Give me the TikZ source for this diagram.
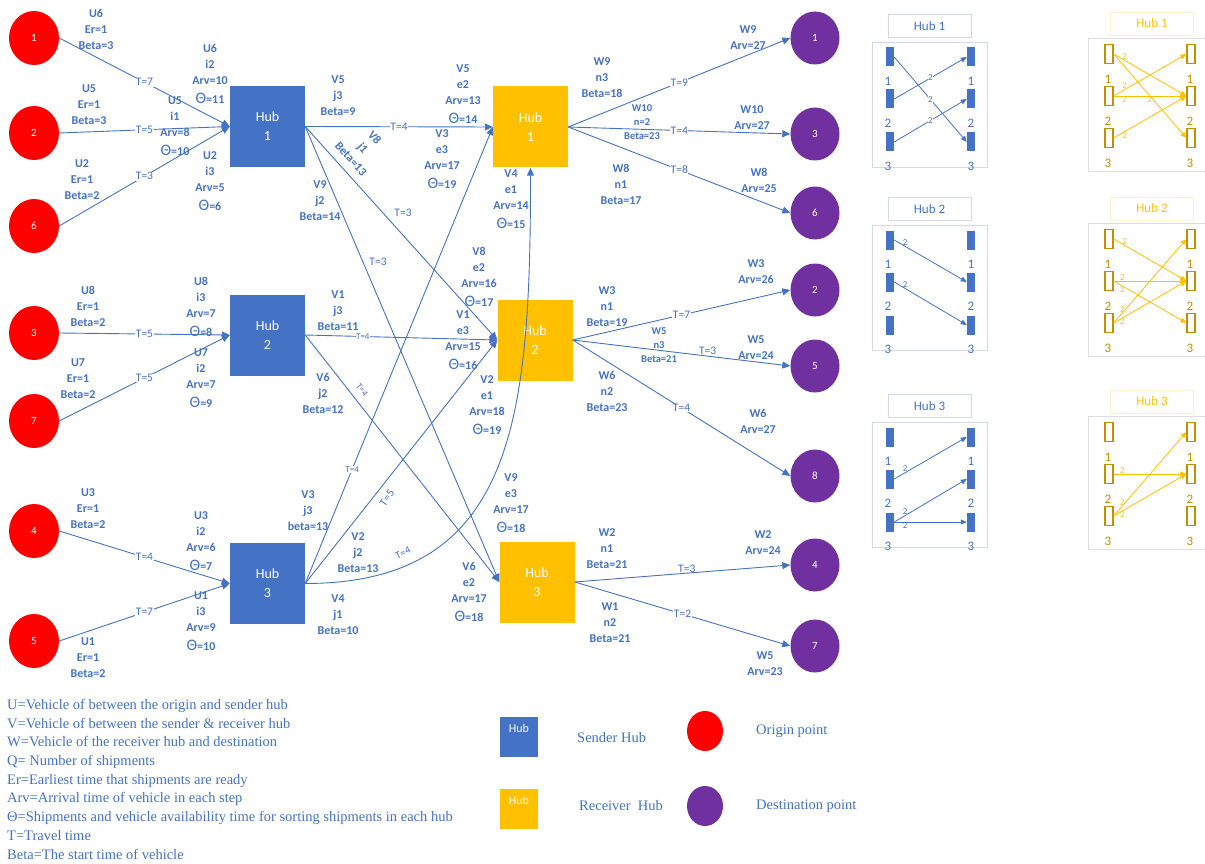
\documentclass[tikz,border=0pt]{standalone}
\usepackage{fontspec}
\setmainfont{Carlito}
\newfontfamily\legendfont{Liberation Serif}
\usepackage{tikz}
\usetikzlibrary{arrows.meta,shapes.geometric}

\definecolor{hubblue}{HTML}{4472C4}
\definecolor{hubgold}{HTML}{FFC000}
\definecolor{dstpurple}{HTML}{7030A0}
\definecolor{darkgold}{HTML}{BF9000}
\definecolor{bframe}{HTML}{D3DBEA}
\definecolor{yframe}{HTML}{DEDEDE}
\definecolor{ytitle}{HTML}{FFF0D0}

\newcommand{\sortth}{{\fontsize{16}{16}\selectfont\mdseries Θ}}

\begin{document}
\begin{tikzpicture}[x=1pt,y=-1pt,->,>={Triangle[length=8pt,width=7pt]},
    every node/.style={text=hubblue},
    every edge/.style={draw=hubblue,line width=0.9pt},
    origin/.style={ellipse,fill=red,minimum width=50pt,minimum height=54pt,
                   inner sep=0pt,text=white,font=\fontsize{11}{12}\selectfont},
    dest/.style={origin,fill=dstpurple,minimum width=49pt,minimum height=53pt},
    shub/.style={rectangle,fill=hubblue,minimum width=75pt,minimum height=81pt,
                 text=white,align=center,font=\fontsize{14}{19}\selectfont},
    rhub/.style={shub,fill=hubgold},
    info/.style={align=center,inner sep=0pt,font=\bfseries\fontsize{12}{16}\selectfont},
    sinfo/.style={info,font=\bfseries\fontsize{10.5}{14}\selectfont},
    tlab/.style={fill=white,inner sep=0.6pt,font=\fontsize{11.5}{12}\selectfont},
    stlab/.style={tlab,font=\fontsize{9}{10}\selectfont},
    pframe/.style={draw=bframe,line width=0.6pt,minimum width=115pt,minimum height=125pt},
    ptitle/.style={draw=bframe,line width=0.6pt,minimum width=83pt,minimum height=23pt,
                   font=\fontsize{13}{14}\selectfont},
    pnum/.style={inner sep=0pt,font=\fontsize{13}{14}\selectfont},
    bbar/.style={fill=hubblue,minimum width=8pt,minimum height=19pt,inner sep=0pt},
    ybar/.style={draw=darkgold,line width=1.3pt,minimum width=8pt,minimum height=19pt,inner sep=0pt},
    sarr/.style={>={Triangle[length=6pt,width=5pt]},every edge/.style={draw=hubblue,line width=0.8pt}},
    ysarr/.style={sarr,every edge/.style={draw=hubgold,line width=0.8pt}},
    snum/.style={inner sep=0.5pt,font=\fontsize{9}{10}\selectfont},
    ysnum/.style={snum,text=hubgold},
    legtxt/.style={inner sep=0pt,anchor=west,font=\legendfont\fontsize{14.5}{18.7}\selectfont}]

  \useasboundingbox (0,0) rectangle (1205,864);

  % origins, hubs and destinations
  \node[origin] (o1) at (34,38)  {1};
  \node[origin] (o2) at (34,133) {2};
  \node[origin] (o6) at (34,226) {6};
  \node[origin] (o3) at (34,333) {3};
  \node[origin] (o7) at (34,421) {7};
  \node[origin] (o4) at (34,531) {4};
  \node[origin] (o5) at (34,641) {5};

  \node[shub] (s1) at (267.5,126.5) {Hub\\1};
  \node[shub] (s2) at (267.5,335)   {Hub\\2};
  \node[shub] (s3) at (267.5,583.5) {Hub\\3};

  \node[rhub] (r1) at (530.5,127) {Hub\\1};
  \node[rhub] (r2) at (535,340)   {Hub\\2};
  \node[rhub] (r3) at (537,582)   {Hub\\3};

  \node[dest] (d1) at (815,38)  {1};
  \node[dest] (d3) at (815,134) {3};
  \node[dest] (d6) at (815,213) {6};
  \node[dest] (d2) at (815,290) {2};
  \node[dest] (d5) at (815,366) {5};
  \node[dest] (d8) at (815,476) {8};
  \node[dest] (d4) at (815,565) {4};
  \node[dest] (d7) at (815,646) {7};

  % origin -> sender hub
  \path (o1.east) edge node[tlab] {T=7} (s1.west)
        (o2.east) edge node[tlab] {T=5} (s1.west)
        (o6.east) edge node[tlab] {T=3} (s1.west)
        (o3.east) edge node[tlab] {T=5} (s2.west)
        (o7.east) edge node[tlab] {T=5} (s2.west)
        (o4.east) edge node[tlab] {T=4} (s3.west)
        (o5.east) edge node[tlab] {T=7} (s3.west);

  % sender hub -> receiver hub
  \path (s1.east) edge node[tlab] {T=4} (r1.west)
        (s1.east) edge (r2.west)
        (s1.east) edge (r3.west)
        (s2.east) edge node[stlab,pos=.3] {T=4} (r2.west)
        (s2.east) edge (r3.west)
        (s3.east) edge node[stlab,pos=.25] {T=4} (r1.west)
        (s3.east) edge (r2.west);
  \draw[draw=hubblue,line width=0.9pt] (s3.east) .. controls +(210,0) and +(0,250) .. (r1.south);

  \node[tlab,fill=none] (t81) at (403,213) {T=3};
  \node[tlab,fill=none] (t91) at (378,262) {T=3};
  \node[stlab,fill=none,rotate=-52] (t62) at (362,390) {T=4};
  \node[tlab,fill=none,rotate=55] (t23) at (387,498) {T=5};
  \node[tlab,fill=none,rotate=25,font=\fontsize{10.5}{11}\selectfont] (t43) at (403,553) {T=4};

  % receiver hub -> destination
  \path (r1.east) edge node[tlab] {T=9} (d1.west)
        (r1.east) edge node[tlab] {T=4} (d3.west)
        (r1.east) edge node[tlab] {T=8} (d6.west)
        (r2.east) edge node[tlab] {T=7} (d2.west)
        (r2.east) edge node[tlab,pos=.62,above,fill=none] {T=3} (d5.west)
        (r2.east) edge node[tlab] {T=4} (d8.west)
        (r3.east) edge node[tlab,pos=.52,above,fill=none] {T=3} (d4.west)
        (r3.east) edge node[tlab] {T=2} (d7.west);

  % vehicle data, first leg
  \node[info] (u6a) at (96,29.5)   {U6\\Er=1\\Beta=3};
  \node[info] (u6b) at (210,73.5)  {U6\\i2\\Arv=10\\[3pt]\sortth=11};
  \node[info] (u5a) at (89,105)    {U5\\Er=1\\Beta=3};
  \node[info] (u5b) at (175,126.5) {U5\\i1\\Arv=8\\[3pt]\sortth=10};
  \node[info] (u2a) at (82,180)    {U2\\Er=1\\Beta=2};
  \node[info] (u2b) at (210,181)   {U2\\i3\\Arv=5\\[3pt]\sortth=6};
  \node[info] (u8a) at (88,306)    {U8\\Er=1\\Beta=2};
  \node[info] (u8b) at (201,306.5) {U8\\i3\\Arv=7\\[3pt]\sortth=8};
  \node[info] (u7a) at (78,379)    {U7\\Er=1\\Beta=2};
  \node[info] (u7b) at (201,378.5) {U7\\i2\\Arv=7\\[3pt]\sortth=9};
  \node[info] (u3a) at (88,508.5)  {U3\\Er=1\\Beta=2};
  \node[info] (u3b) at (201,541.5) {U3\\i2\\Arv=6\\[3pt]\sortth=7};
  \node[info] (u1b) at (201,621)   {U1\\i3\\Arv=9\\[3pt]\sortth=10};
  \node[info] (u1a) at (88,658)    {U1\\Er=1\\Beta=2};

  % vehicle data, second leg
  \node[info] (v5a) at (338,95.5)  {V5\\j3\\Beta=9};
  \node[info] (v5b) at (463,94)    {V5\\e2\\Arv=13\\[3pt]\sortth=14};
  \node[info,rotate=-48] (v8a) at (363,148) {V8\\j1\\Beta=13};
  \node[info] (v9a) at (320,200.5) {V9\\j2\\Beta=14};
  \node[info] (v3b) at (442,159)   {V3\\e3\\Arv=17\\[3pt]\sortth=19};
  \node[info] (v4b) at (511,199.5) {V4\\e1\\Arv=14\\[3pt]\sortth=15};
  \node[info] (v8b) at (479,276.5) {V8\\e2\\Arv=16\\[3pt]\sortth=17};
  \node[info] (v1a) at (338,311)   {V1\\j3\\Beta=11};
  \node[info] (v1b) at (463,340.5) {V1\\e3\\Arv=15\\[3pt]\sortth=16};
  \node[info] (v6a) at (323,393)   {V6\\j2\\Beta=12};
  \node[info] (v2b) at (487,405.5) {V2\\e1\\Arv=18\\[3pt]\sortth=19};
  \node[info] (v9b) at (511,503.5) {V9\\e3\\Arv=17\\[3pt]\sortth=18};
  \node[info] (v3a) at (308,510.5) {V3\\j3\\beta=13};
  \node[info] (v2a) at (358,553)   {V2\\j2\\Beta=13};
  \node[info] (v6b) at (469,591.5) {V6\\e2\\Arv=17\\[3pt]\sortth=18};
  \node[info] (v4a) at (338,615)   {V4\\j1\\Beta=10};

  % vehicle data, last leg
  \node[info]  (w9a)  at (602,78)    {W9\\n3\\Beta=18};
  \node[info]  (w9b)  at (748,38)    {W9\\Arv=27};
  \node[sinfo] (w10a) at (642,122.5) {W10\\n=2\\Beta=23};
  \node[info]  (w10b) at (752,118)   {W10\\Arv=27};
  \node[info]  (w8a)  at (621,184)   {W8\\n1\\Beta=17};
  \node[info]  (w8b)  at (759,180)   {W8\\Arv=25};
  \node[info]  (w3a)  at (607,307)   {W3\\n1\\Beta=19};
  \node[info]  (w3b)  at (756,272)   {W3\\Arv=26};
  \node[sinfo] (w5a)  at (659,345)   {W5\\n3\\Beta=21};
  \node[info]  (w5b)  at (756,348)   {W5\\Arv=24};
  \node[info]  (w6a)  at (607,391.5) {W6\\n2\\Beta=23};
  \node[info]  (w6b)  at (758,421)   {W6\\Arv=27};
  \node[info]  (w2a)  at (607,549)   {W2\\n1\\Beta=21};
  \node[info]  (w2b)  at (763,543)   {W2\\Arv=24};
  \node[info]  (w1a)  at (610,622.5) {W1\\n2\\Beta=21};
  \node[info]  (w1b)  at (765,664)   {W5\\Arv=23};

  % sorting inside the sender hubs
  \foreach \p/\t in {1/42,2/225,3/422}{
    \node[pframe] at (929.5,\t+62.5) {};
    \node[ptitle] at (929.5,\t-16) {Hub \p};
    \foreach \r/\dy in {1/15,2/57,3/100}{
      \node[bbar] (bl\p\r) at (890,\t+\dy) {};
      \node[bbar] (br\p\r) at (971,\t+\dy) {};
      \node[pnum] at (888,\t+\dy+24.5) {\r};
      \node[pnum] at (971,\t+\dy+24.5) {\r};
    }
  }
  \path[sarr]
    (bl11.east) edge node[snum,fill=white] {2} (br13.west)
    (bl12.east) edge node[snum,fill=white] {2} (br11.west)
    (bl13.east) edge node[snum,fill=white] {2} (br12.west)
    (bl21.east) edge node[snum,pos=.15,above] {2} (br22.west)
    (bl22.east) edge node[snum,pos=.15,above] {2} (br23.west)
    (bl32.east) edge node[snum,pos=.15,above] {2} (br31.west)
    (bl33.east) edge node[snum,pos=.15,above] {2} (br32.west)
    (bl33.east) edge node[snum,pos=.15,below] {2} (br33.west);

  % sorting inside the receiver hubs
  \foreach \p/\t in {1/38,2/223,3/416}{
    \node[pframe,draw=yframe,minimum width=117pt,minimum height=133pt] at (1146.5,\t+66.5) {};
    \node[ptitle,draw=ytitle,text=hubgold] at (1152,\t-14.5) {Hub \p};
    \foreach \r/\dy in {1/16,2/58,3/100}{
      \node[ybar] (yl\p\r) at (1109,\t+\dy) {};
      \node[ybar] (yr\p\r) at (1191,\t+\dy) {};
      \node[pnum,text=darkgold] at (1108,\t+\dy+25) {\r};
      \node[pnum,text=darkgold] at (1190,\t+\dy+25) {\r};
    }
  }
  \path[ysarr]
    (yl11.east) edge node[ysnum,pos=.15,above] {2} (yr12.west)
    (yl11.east) edge node[ysnum,pos=.5,below] {2} (yr13.west)
    (yl12.east) edge node[ysnum,pos=.15,above] {2} (yr11.west)
    (yl12.east) edge node[ysnum,pos=.15,below] {2} (yr12.west)
    (yl13.east) edge node[ysnum,pos=.15,below] {2} (yr12.west)
    (yl21.east) edge node[ysnum,pos=.15,above] {2} (yr22.west)
    (yl22.east) edge node[ysnum,pos=.12,above] {2} (yr22.west)
    (yl22.east) edge node[ysnum,pos=.12,below] {2} (yr23.west)
    (yl23.east) edge node[ysnum,pos=.12,above] {2} (yr21.west)
    (yl23.east) edge node[ysnum,pos=.12,below] {2} (yr22.west)
    (yl32.east) edge node[ysnum,pos=.12,above] {2} (yr32.west)
    (yl33.east) edge node[ysnum,pos=.12,above] {2} (yr31.west)
    (yl33.east) edge node[ysnum,pos=.12,below] {2} (yr32.west);

  % legend
  \node[legtxt,anchor=north west,align=left] (defs) at (7,699) {%
    U=Vehicle of between the origin and sender hub\\
    V=Vehicle of between the sender \& receiver hub\\
    W=Vehicle of the receiver hub and destination\\
    Q= Number of shipments\\
    Er=Earliest time that shipments are ready\\
    Arv=Arrival time of vehicle in each step\\
    Θ=Shipments and vehicle availability time for sorting shipments in each hub\\
    T=Travel time\\
    Beta=The start time of vehicle};

  \node[fill=hubblue,minimum width=38pt,minimum height=40pt] (ksend) at (519,737) {};
  \node[text=white,font=\fontsize{12}{13}\selectfont] at (519,728) {Hub};
  \node[fill=hubgold,minimum width=38pt,minimum height=40pt] (krecv) at (519,809) {};
  \node[text=white,font=\fontsize{12}{13}\selectfont] at (519,800) {Hub};
  \node[legtxt] at (577,738) {Sender Hub};
  \node[legtxt] at (579,806) {Receiver\ \ Hub};
  \node[origin,minimum width=36pt,minimum height=40pt] (korig) at (705,731) {};
  \node[dest,minimum width=36pt,minimum height=40pt] (kdest) at (705,806) {};
  \node[legtxt] at (756,731) {Origin point};
  \node[legtxt] at (756,806) {Destination point};

\end{tikzpicture}
\end{document}
